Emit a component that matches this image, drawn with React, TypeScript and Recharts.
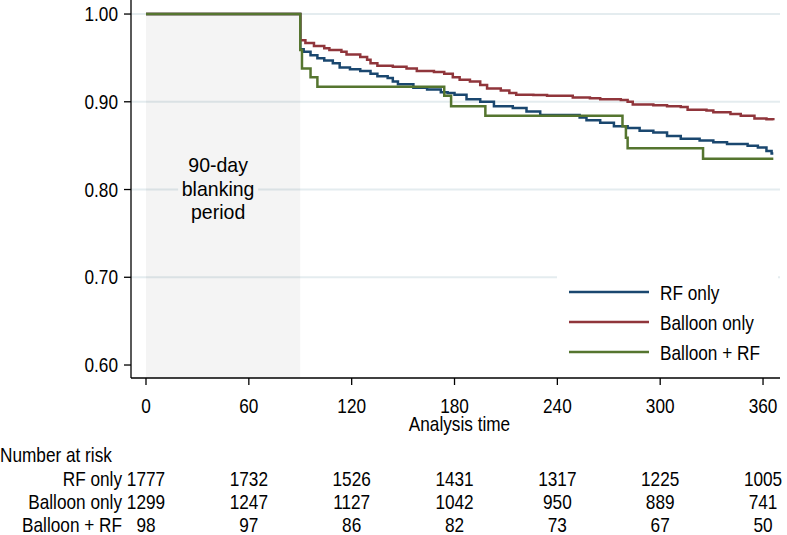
import { CartesianGrid, Legend, Line, LineChart, ReferenceArea, XAxis, YAxis } from 'recharts';

const FONT = '"Liberation Sans", Arial, Helvetica, sans-serif';
const FS = 21;
// Arial Narrow is not installed; squeeze Liberation Sans to the same advance widths
const NARROW = 0.82;

// Kaplan-Meier estimates (day, proportion free of AF)
const rfDays = [0, 90, 92, 96, 100, 104, 109, 113, 119, 125, 131, 135, 141, 144, 147, 156, 164, 172, 176, 180, 187, 195, 203, 214, 222, 230, 253, 257, 265, 273, 281, 288, 296, 304, 312, 323, 331, 339, 351, 357, 362, 365, 366];
const rfSurvival = [1.0, 0.960, 0.957, 0.953, 0.9495, 0.947, 0.944, 0.939, 0.937, 0.935, 0.932, 0.929, 0.927, 0.923, 0.920, 0.916, 0.914, 0.911, 0.910, 0.908, 0.903, 0.900, 0.895, 0.893, 0.889, 0.885, 0.882, 0.879, 0.876, 0.872, 0.870, 0.867, 0.865, 0.861, 0.858, 0.856, 0.854, 0.852, 0.850, 0.848, 0.844, 0.841, 0.841];

const balloonDays = [0, 90, 93, 98, 104, 107, 114, 117, 125, 129, 131, 135, 144, 152, 158, 168, 174, 179, 183, 189, 195, 199, 207, 212, 216, 226, 234, 249, 259, 265, 277, 281, 284, 296, 304, 312, 316, 327, 331, 341, 347, 355, 362, 366];
const balloonSurvival = [1.0, 0.970, 0.967, 0.9635, 0.961, 0.959, 0.957, 0.954, 0.951, 0.948, 0.944, 0.941, 0.940, 0.938, 0.935, 0.934, 0.932, 0.928, 0.925, 0.923, 0.919, 0.915, 0.913, 0.910, 0.908, 0.9077, 0.907, 0.905, 0.904, 0.903, 0.902, 0.900, 0.897, 0.896, 0.895, 0.894, 0.891, 0.890, 0.888, 0.886, 0.884, 0.881, 0.880, 0.879];

const comboDays = [0, 90, 91, 96, 100, 174, 178, 198, 278, 280, 281, 325, 366];
const comboSurvival = [1.0, 0.959, 0.938, 0.928, 0.917, 0.907, 0.895, 0.884, 0.872, 0.859, 0.847, 0.835, 0.835];

const xTicks = [0, 60, 120, 180, 240, 300, 360];
const yTicks = [0.6, 0.7, 0.8, 0.9, 1.0];
const gridValues = [0.7, 0.8, 0.9, 1.0];

const riskLabels = ['RF only', 'Balloon only', 'Balloon + RF'];
const riskRF = [1777, 1732, 1526, 1431, 1317, 1225, 1005];
const riskBalloon = [1299, 1247, 1127, 1042, 950, 889, 741];
const riskCombo = [98, 97, 86, 82, 73, 67, 50];

const BLANKING_END = 90;

const zip = (days: number[], surv: number[]) => days.map((day, i) => ({ day, surv: surv[i] }));

const series = [
  { name: 'RF only', color: '#1a476f', data: zip(rfDays, rfSurvival) },
  { name: 'Balloon only', color: '#90353b', data: zip(balloonDays, balloonSurvival) },
  { name: 'Balloon + RF', color: '#55752f', data: zip(comboDays, comboSurvival) },
];

const riskRows = [riskRF, riskBalloon, riskCombo];
// baselines of the risk table rows, measured from the tick text origin
const ROW_OFFSETS = [101, 124, 147];

function NarrowText({ x, y, anchor = 'start', rotate = 0, squeeze = NARROW, children }: any) {
  return (
    <g transform={`translate(${x},${y}) rotate(${rotate}) scale(${squeeze},1)`}>
      <text x={0} y={0} textAnchor={anchor} fontFamily={FONT} fontSize={FS} fill="#000">
        {children}
      </text>
    </g>
  );
}

// tick label plus the number-at-risk column under it
function TimeTick({ x, y, payload }: any) {
  const i = xTicks.indexOf(payload.value);
  return (
    <g>
      <NarrowText x={x} y={y + 28} anchor="middle">{payload.value}</NarrowText>
      {riskRows.map((row, r) => (
        <NarrowText key={r} x={x} y={y + ROW_OFFSETS[r]} anchor="middle">{row[i]}</NarrowText>
      ))}
    </g>
  );
}

function ValueTick({ x, y, payload }: any) {
  return <NarrowText x={x} y={y + 7} anchor="end">{payload.value.toFixed(2)}</NarrowText>;
}

function TimeAxisLabel({ viewBox }: any) {
  const { x, y, width } = viewBox;
  return (
    <g>
      <NarrowText x={x + width / 2 + 4} y={y + 53} anchor="middle">Analysis time</NarrowText>
      <NarrowText x={0} y={y + 84}>Number at risk</NarrowText>
      {riskLabels.map((label, r) => (
        <NarrowText key={label} x={122} y={y + 7 + ROW_OFFSETS[r]} anchor="end">{label}</NarrowText>
      ))}
    </g>
  );
}

function RecurrenceLabel({ viewBox }: any) {
  return (
    <NarrowText x={viewBox.x - 81} y={viewBox.y + viewBox.height / 2 - 3} anchor="middle" rotate={-90}>
      AF recurrence (%)
    </NarrowText>
  );
}

function BlankingLabel({ viewBox }: any) {
  const cx = viewBox.x + viewBox.width / 2 - 5;
  const top = viewBox.y;
  return (
    <g>
      <rect x={cx - 40} y={top + 140} width={80} height={72} fill="#f4f4f4" />
      <NarrowText x={cx} y={top + 158} anchor="middle" squeeze={0.93}>90-day</NarrowText>
      <NarrowText x={cx} y={top + 182} anchor="middle" squeeze={0.93}>blanking</NarrowText>
      <NarrowText x={cx} y={top + 205} anchor="middle" squeeze={0.93}>period</NarrowText>
    </g>
  );
}

function KeyBox() {
  return (
    <div style={{ background: '#fff', width: 221, paddingTop: 2, fontFamily: FONT, fontSize: FS, color: '#000', lineHeight: 1 }}>
      {series.map((s) => (
        <div key={s.name} style={{ display: 'flex', alignItems: 'center', height: 30 }}>
          <svg width={103} height={30} style={{ display: 'block', flex: 'none' }}>
            <line x1={12} x2={92} y1={15} y2={15} stroke={s.color} strokeWidth={2.5} />
          </svg>
          <span style={{ display: 'inline-block', whiteSpace: 'nowrap', transform: `scaleX(${NARROW})`, transformOrigin: 'left center' }}>
            {s.name}
          </span>
        </div>
      ))}
    </div>
  );
}

export default function App() {
  return (
    <div style={{ width: 787, height: 535, background: '#fff', position: 'relative' }}>
      <style>{'body{margin:0;background:#fff}'}</style>
      <LineChart width={787} height={535} margin={{ top: 0, right: 7, bottom: 0, left: 0 }}>
        <CartesianGrid vertical={false} horizontalValues={gridValues} stroke="#e4ecef" strokeWidth={2} />
        <ReferenceArea
          x1={0} x2={BLANKING_END} y1={0.5852} y2={1.0}
          fill="#000" fillOpacity={0.045} stroke="none"
        />
        <ReferenceArea
          x1={0} x2={BLANKING_END} y1={0.5852} y2={1.0}
          fill="none" stroke="none" label={<BlankingLabel />}
        />
        <XAxis
          dataKey="day" type="number" domain={[-8.75, 369.9]} allowDataOverflow
          ticks={xTicks} interval={0} tickSize={7} tickMargin={0} height={157}
          tickLine={{ stroke: '#000', strokeWidth: 1.3 }}
          axisLine={{ stroke: '#000', strokeWidth: 1.3 }}
          tick={<TimeTick />}
          label={<TimeAxisLabel />}
        />
        <YAxis
          type="number" domain={[0.5852, 1.016]} allowDataOverflow
          ticks={yTicks} interval={0} width={131} tickSize={7} tickMargin={6}
          tick={<ValueTick />}
          tickLine={{ stroke: '#000', strokeWidth: 1.3 }}
          axisLine={{ stroke: '#000', strokeWidth: 1.3 }}
          label={<RecurrenceLabel />}
        />
        <Legend
          layout="horizontal" verticalAlign="middle" align="center"
          content={<KeyBox />}
          wrapperStyle={{ position: 'absolute', left: 557, top: 275, width: 221 }}
        />
        {series.map((s) => (
          <Line
            key={s.name}
            data={s.data}
            dataKey="surv"
            name={s.name}
            type="stepAfter"
            stroke={s.color}
            strokeWidth={2.5}
            dot={false}
            activeDot={false}
            isAnimationActive={false}
          />
        ))}
      </LineChart>
    </div>
  );
}
